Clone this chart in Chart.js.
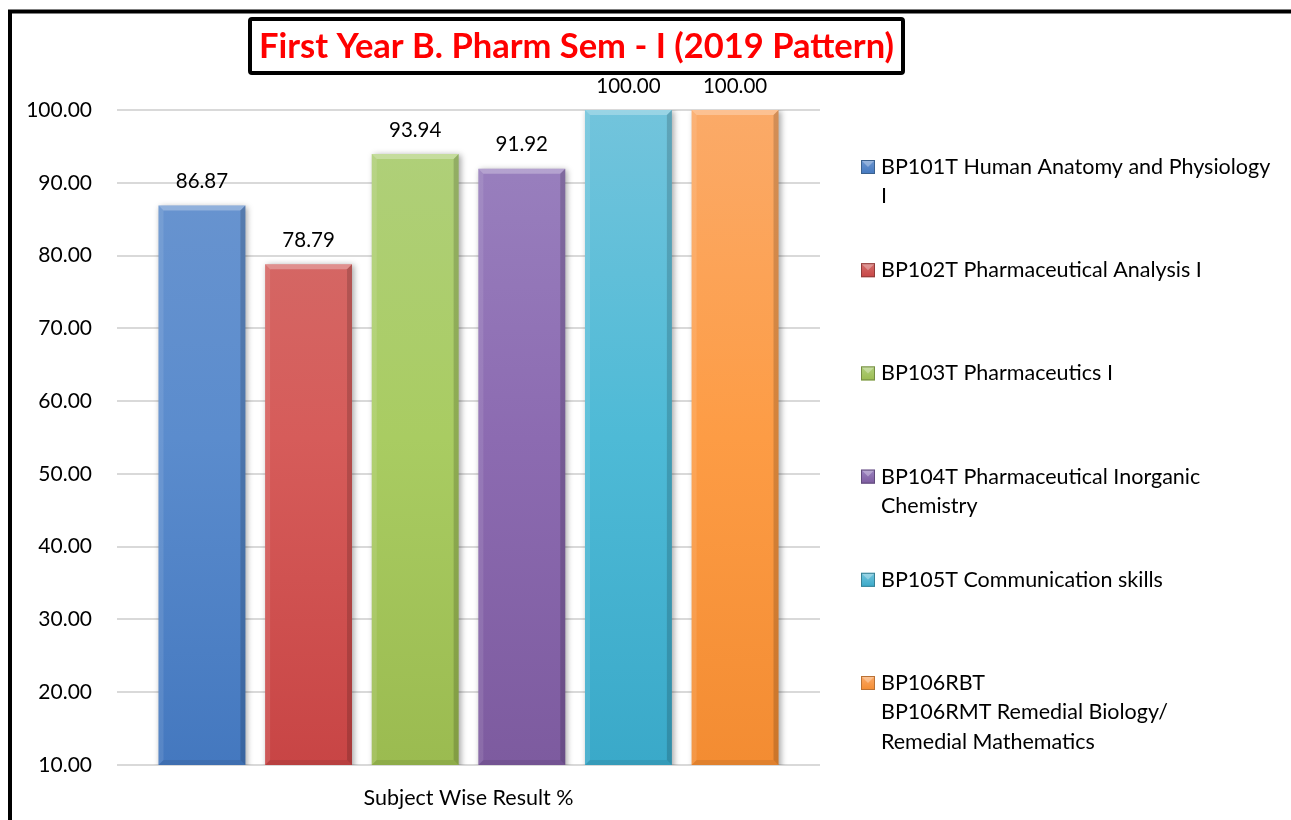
<!DOCTYPE html>
<html>
<head>
<meta charset="utf-8">
<script src="https://cdn.jsdelivr.net/npm/chart.js@4.4.1/dist/chart.umd.min.js"></script>
<style>
  html, body { margin: 0; padding: 0; background: #ffffff; }
  #wrap { width: 1291px; height: 820px; position: relative; }
</style>
</head>
<body>
<div id="wrap"><canvas id="c" width="1291" height="820"></canvas></div>
<script>
// ---- data ----
const chartTitle = 'First Year B. Pharm Sem - I (2019 Pattern)';
const categories = ['Subject Wise Result %'];
const seriesNames = [
  'BP101T Human Anatomy and Physiology I',
  'BP102T Pharmaceutical Analysis I',
  'BP103T Pharmaceutics I',
  'BP104T Pharmaceutical Inorganic Chemistry',
  'BP105T Communication skills',
  'BP106RBT BP106RMT Remedial Biology/ Remedial Mathematics'
];
const legendLines = [
  ['BP101T Human Anatomy and Physiology', 'I'],
  ['BP102T Pharmaceutical Analysis I'],
  ['BP103T Pharmaceutics I'],
  ['BP104T Pharmaceutical Inorganic', 'Chemistry'],
  ['BP105T Communication skills'],
  ['BP106RBT', 'BP106RMT Remedial Biology/', 'Remedial Mathematics']
];
const seriesValues = [86.87, 78.79, 93.94, 91.92, 100.00, 100.00];
const yTicks = [10, 20, 30, 40, 50, 60, 70, 80, 90, 100];

// ---- styles ----
const baseColors = ['#4F81BD', '#C0504D', '#9BBB59', '#8064A2', '#4BACC6', '#F79646'];
const topColors = ['#6C96D0', '#D36F6C', '#B0D07C', '#9B83C0', '#72C4DC', '#FBAA68'];
const midColors = ['#5B8CCD', '#D65C5A', '#A9CC62', '#8C6BB1', '#4EBAD6', '#FD9C45'];
const botColors = ['#4478BF', '#C84545', '#9BBB50', '#7D5B9F', '#3AA9C9', '#F38C32'];
const FONT = 'Lato, "Open Sans", "DejaVu Sans", sans-serif';

function mix(hex, other, t) {
  const a = parseInt(hex.slice(1), 16), b = parseInt(other.slice(1), 16);
  const r = Math.round(((a >> 16) & 255) * (1 - t) + ((b >> 16) & 255) * t);
  const g = Math.round(((a >> 8) & 255) * (1 - t) + ((b >> 8) & 255) * t);
  const bl = Math.round((a & 255) * (1 - t) + (b & 255) * t);
  return 'rgb(' + r + ',' + g + ',' + bl + ')';
}

function barGradient(ctx, i) {
  const chart = ctx.chart;
  const area = chart.chartArea;
  if (!area) return baseColors[i];
  const g = chart.ctx.createLinearGradient(0, area.top, 0, area.bottom);
  g.addColorStop(0, topColors[i]);
  g.addColorStop(0.5, midColors[i]);
  g.addColorStop(1, botColors[i]);
  return g;
}

const datasets = seriesNames.map((name, i) => ({
  label: name,
  data: [seriesValues[i]],
  backgroundColor: (ctx) => barGradient(ctx, i),
  borderWidth: 0,
  barPercentage: 0.815,
  categoryPercentage: 0.91
}));

const framePlugin = {
  id: 'frame',
  beforeDraw(chart) {
    const c = chart.ctx;
    c.save();
    c.fillStyle = '#ffffff';
    c.fillRect(0, 0, chart.width, chart.height);
    c.strokeStyle = '#000000';
    c.lineWidth = 4;
    c.strokeRect(10, 11.5, 2000, 2000);
    c.restore();
  },
  afterDraw(chart) {
    const c = chart.ctx;
    c.save();
    c.fillStyle = '#ffffff';
    c.strokeStyle = '#000000';
    c.lineWidth = 4;
    c.beginPath();
    if (c.roundRect) c.roundRect(250, 19, 653, 54, 2); else c.rect(250, 19, 653, 54);
    c.fill();
    c.stroke();
    c.fillStyle = '#FF0000';
    c.font = 'bold 34.5px ' + FONT;
    c.textAlign = 'center';
    c.textBaseline = 'middle';
    c.fillText(chartTitle, 576.5, 47);
    c.restore();
  }
};

const shadowPlugin = {
  id: 'barShadow',
  beforeDatasetsDraw(chart) {
    const c = chart.ctx;
    c.save();
    c.shadowColor = 'rgba(0,0,0,0.35)';
    c.shadowBlur = 6;
    c.shadowOffsetX = 2;
    c.shadowOffsetY = 1;
  },
  afterDatasetsDraw(chart) {
    chart.ctx.restore();
    const c = chart.ctx;
    const area = chart.chartArea;
    c.save();
    chart.data.datasets.forEach((ds, i) => {
      const meta = chart.getDatasetMeta(i);
      meta.data.forEach((bar) => {
        const x0 = bar.x - bar.width / 2, x1 = bar.x + bar.width / 2;
        const y0 = bar.y, y1 = Math.min(bar.base, area.bottom);
        const b = 5;
        c.fillStyle = 'rgba(255,255,255,0.28)';
        c.beginPath();
        c.moveTo(x0, y0); c.lineTo(x1, y0); c.lineTo(x1 - b, y0 + b); c.lineTo(x0 + b, y0 + b); c.closePath();
        c.fill();
        c.fillStyle = 'rgba(255,255,255,0.10)';
        c.beginPath();
        c.moveTo(x0, y0); c.lineTo(x0 + b, y0 + b); c.lineTo(x0 + b, y1 - b); c.lineTo(x0, y1); c.closePath();
        c.fill();
        c.fillStyle = 'rgba(0,0,0,0.16)';
        c.beginPath();
        c.moveTo(x1, y0); c.lineTo(x1 - b, y0 + b); c.lineTo(x1 - b, y1 - b); c.lineTo(x1, y1); c.closePath();
        c.fill();
        c.fillStyle = 'rgba(0,0,0,0.08)';
        c.beginPath();
        c.moveTo(x0, y1); c.lineTo(x0 + b, y1 - b); c.lineTo(x1 - b, y1 - b); c.lineTo(x1, y1); c.closePath();
        c.fill();
        c.fillStyle = '#000000';
        c.font = '20.5px ' + FONT;
        c.textAlign = 'center';
        c.textBaseline = 'middle';
        c.fillText(seriesValues[i].toFixed(2), bar.x, bar.y - 24);
      });
    });
    c.restore();
  }
};

const legendPlugin = {
  id: 'sideLegend',
  afterDraw(chart) {
    const c = chart.ctx;
    const area = chart.chartArea;
    c.save();
    const bx = area.right + 41;
    const startY = 167, step = 103.2, lh = 29.5;
    legendLines.forEach((lines, i) => {
      const y = startY + i * step;
      const s = 14, ix = bx, iy = y - 7;
      const g = c.createLinearGradient(0, iy, 0, iy + s);
      g.addColorStop(0, topColors[i]);
      g.addColorStop(1, botColors[i]);
      c.fillStyle = g;
      c.fillRect(ix, iy, s, s);
      c.fillStyle = 'rgba(255,255,255,0.3)';
      c.beginPath(); c.moveTo(ix, iy); c.lineTo(ix + s, iy); c.lineTo(ix + s / 2, iy + s / 2); c.closePath(); c.fill();
      c.strokeStyle = mix(baseColors[i], '#000000', 0.25);
      c.lineWidth = 1;
      c.strokeRect(ix + 0.5, iy + 0.5, s - 1, s - 1);
      c.fillStyle = '#000000';
      c.font = '21.5px ' + FONT;
      c.textAlign = 'left';
      c.textBaseline = 'middle';
      lines.forEach((t, k) => c.fillText(t, bx + 20, y + k * lh));
    });
    c.restore();
  }
};

new Chart(document.getElementById('c'), {
  type: 'bar',
  data: { labels: categories, datasets: datasets },
  options: {
    responsive: false,
    animation: false,
    devicePixelRatio: 1,
    layout: { padding: { left: 20, right: 471, top: 110, bottom: 0 } },
    plugins: {
      legend: { display: false },
      title: { display: false },
      tooltip: { enabled: false }
    },
    scales: {
      x: {
        grid: { display: false, drawTicks: false },
        border: { display: false },
        ticks: { color: '#000000', font: { family: FONT, size: 21.5 }, padding: 20 },
        afterFit(scale) { scale.height = 55; }
      },
      y: {
        min: 10,
        max: 100,
        afterBuildTicks(scale) { scale.ticks = yTicks.map(v => ({ value: v })); },
        grid: { color: '#d9d9d9', lineWidth: 2, drawTicks: false },
        border: { display: false },
        ticks: {
          color: '#000000',
          font: { family: FONT, size: 21 },
          padding: 25,
          callback: (v) => Number(v).toFixed(2)
        },
        afterFit(scale) { scale.width = 97; }
      }
    }
  },
  plugins: [framePlugin, shadowPlugin, legendPlugin]
});
</script>
</body>
</html>
